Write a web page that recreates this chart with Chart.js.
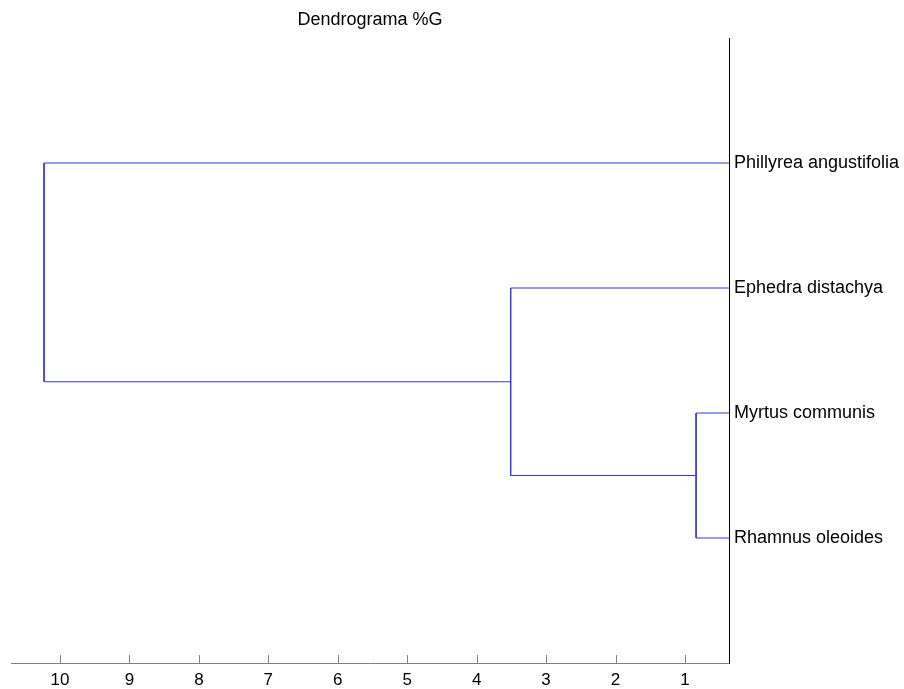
<!DOCTYPE html>
<html>
<head>
<meta charset="utf-8">
<title>Dendrograma %G</title>
<script src="https://cdn.jsdelivr.net/npm/chart.js@4/dist/chart.umd.min.js"></script>
<style>
  body { margin: 0; background: #fff; }
  canvas { display: block; }
</style>
</head>
<body>
<canvas id="dendro" width="904" height="689"></canvas>
<script>
// Blade (fra bund til top), y = 1..4
var leafNames = ["Rhamnus oleoides", "Myrtus communis", "Ephedra distachya", "Phillyrea angustifolia"];

// Sammenlægninger: node-id 0..3 er blade, 4.. er sammenlægninger
var mergeLeft = [1, 2, 3];
var mergeRight = [0, 4, 5];
var mergeHeights = [0.84, 3.51, 10.23];

var xTicks = [1, 2, 3, 4, 5, 6, 7, 8, 9, 10];
var yTicks = [1, 2, 3, 4];

var titleText = "Dendrograma %G";
var fontFamily = "'Liberation Sans', Arial, sans-serif";
var lineColor = "#3838cc";

// Position for hver node
var nodeX = leafNames.map(function () { return 0; });
var nodeY = leafNames.map(function (_, i) { return i + 1; });

var datasets = [];
for (var i = 0; i < mergeHeights.length; i++) {
  var a = mergeLeft[i];
  var b = mergeRight[i];
  var h = mergeHeights[i];
  datasets.push({
    data: [
      { x: nodeX[a], y: nodeY[a] },
      { x: h, y: nodeY[a] },
      { x: h, y: nodeY[b] },
      { x: nodeX[b], y: nodeY[b] },
    ],
    showLine: true,
    borderColor: lineColor,
    borderWidth: 1,
    pointRadius: 0,
    fill: false,
  });
  nodeX.push(h);
  nodeY.push((nodeY[a] + nodeY[b]) / 2);
}

// Tick-streger indad (som i MATLAB) + titel over plotområdet
var extras = {
  id: "extras",
  afterDraw: function (chart) {
    var ctx = chart.ctx;
    var area = chart.chartArea;
    var xs = chart.scales.x;
    ctx.save();
    ctx.strokeStyle = "#808080";
    ctx.lineWidth = 1;
    xs.ticks.forEach(function (t) {
      var px = Math.round(xs.getPixelForValue(t.value)) + 0.5;
      ctx.beginPath();
      ctx.moveTo(px, area.bottom);
      ctx.lineTo(px, area.bottom - 8);
      ctx.stroke();
    });
    ctx.fillStyle = "#000";
    ctx.font = "18px " + fontFamily;
    ctx.textAlign = "center";
    ctx.textBaseline = "alphabetic";
    ctx.fillText(titleText, (area.left + area.right) / 2, 25);
    ctx.restore();
  },
};

var chart = new Chart(document.getElementById("dendro").getContext("2d"), {
  type: "scatter",
  data: { datasets: datasets },
  options: {
    responsive: false,
    animation: false,
    layout: { padding: { left: 11, top: 38, right: 0, bottom: 0 } },
    plugins: {
      legend: { display: false },
      title: { display: false },
      tooltip: { enabled: false },
    },
    scales: {
      x: {
        type: "linear",
        reverse: true,
        min: 0.366,
        max: 10.706,
        grid: { display: false, drawTicks: false },
        border: { display: true, color: "#808080", width: 1 },
        afterBuildTicks: function (scale) {
          scale.ticks = xTicks.map(function (v) { return { value: v }; });
        },
        afterFit: function (scale) {
          scale.height = 26;
        },
        ticks: {
          color: "#000",
          padding: 7,
          maxRotation: 0,
          font: { family: fontFamily, size: 17 },
        },
      },
      y: {
        type: "linear",
        position: "right",
        min: 0,
        max: 5,
        grid: { display: false, drawTicks: false },
        border: { display: true, color: "#000", width: 1 },
        afterBuildTicks: function (scale) {
          scale.ticks = yTicks.map(function (v) { return { value: v }; });
        },
        afterFit: function (scale) {
          scale.width = 175;
        },
        ticks: {
          color: "#000",
          padding: 5,
          font: { family: fontFamily, size: 18 },
          callback: function (v) {
            return leafNames[v - 1];
          },
        },
      },
    },
  },
  plugins: [extras],
});
</script>
</body>
</html>
